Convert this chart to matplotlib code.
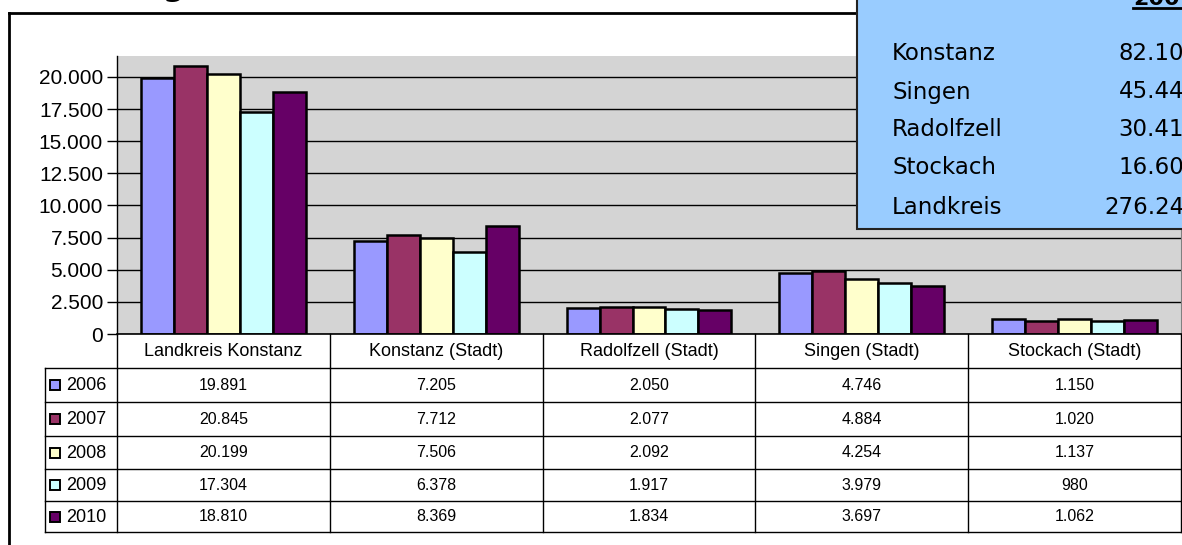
import numpy as np
import matplotlib
matplotlib.use("Agg")
import matplotlib.pyplot as plt
from matplotlib.patches import Rectangle
from matplotlib.ticker import FuncFormatter, MultipleLocator

plt.rcParams['font.family'] = ['Liberation Sans', 'DejaVu Sans']

# data
kategorien = ["Landkreis Konstanz", "Konstanz (Stadt)", "Radolfzell (Stadt)",
              "Singen (Stadt)", "Stockach (Stadt)"]
jahre = ["2006", "2007", "2008", "2009", "2010"]
werte_2006 = [19891, 7205, 2050, 4746, 1150]
werte_2007 = [20845, 7712, 2077, 4884, 1020]
werte_2008 = [20199, 7506, 2092, 4254, 1137]
werte_2009 = [17304, 6378, 1917, 3979, 980]
werte_2010 = [18810, 8369, 1834, 3697, 1062]
farben = ["#9999ff", "#993366", "#ffffcc", "#ccffff", "#660066"]

box_orte = ["Konstanz", "Singen", "Radolfzell", "Stockach", "Landkreis"]
box_werte = ["82.10", "45.44", "30.41", "16.60", "276.24"]

reihen = [werte_2006, werte_2007, werte_2008, werte_2009, werte_2010]


def fmt(v):
    return f"{int(v):,}".replace(",", ".")


W, H = 1182, 545
fig = plt.figure(figsize=(W / 100, H / 100), dpi=100)

# plot area in pixels
px0, px1, py0, py1 = 117, 1181, 56, 334
ax = fig.add_axes([px0 / W, 1 - py1 / H, (px1 - px0) / W, (py1 - py0) / H])
ax.set_facecolor("#d4d4d4")

x = np.arange(len(kategorien))
bw = 0.155
for j, werte in enumerate(reihen):
    ax.bar(x + (j - 2) * bw, werte, bw, color=farben[j], edgecolor="black",
           linewidth=1.8, label=jahre[j], zorder=2)

ax.set_xlim(-0.5, len(kategorien) - 0.5)
ax.set_ylim(0, 21630)
ax.yaxis.set_major_locator(MultipleLocator(2500))
ax.yaxis.set_major_formatter(FuncFormatter(lambda v, p: fmt(v)))
ax.set_axisbelow(True)
ax.yaxis.grid(True, color="black", linewidth=1)
ax.set_xticks([])
ax.tick_params(axis="y", length=7, width=1, labelsize=15, pad=3)
ax.spines["top"].set_visible(False)
ax.spines["right"].set_color("#808080")
ax.spines["left"].set_linewidth(1)
ax.spines["bottom"].set_linewidth(1.2)

# overlay for frame, table and info box (pixel coordinates)
ov = fig.add_axes([0, 0, 1, 1], zorder=5)
ov.set_xlim(0, W)
ov.set_ylim(H, 0)
ov.axis("off")
ov.patch.set_alpha(0)

# frame
ov.plot([9, 9], [13, H + 5], color="black", lw=2)
ov.plot([9, 860], [13, 13], color="black", lw=2)

# title (cut off at top)
ov.text(163, -4, "g", fontsize=22, fontweight="bold", ha="left", va="baseline",
        family="DejaVu Sans")

# data table
colw = (px1 - px0) / len(kategorien)
zeilen_y = [334, 368, 402, 436, 469, 501, 532]
lc = "black"
for i in range(len(kategorien) + 1):
    xx = px0 + i * colw
    ov.plot([xx, xx], [334, 532], color=lc, lw=1)
ov.plot([45, 45], [368, 532], color=lc, lw=1)
for yy in zeilen_y[1:]:
    ov.plot([45, px1], [yy, yy], color=lc, lw=1)

for i, k in enumerate(kategorien):
    ov.text(px0 + (i + 0.5) * colw, 351, k, ha="center", va="center", fontsize=13)

for j, werte in enumerate(reihen):
    yc = (zeilen_y[j + 1] + zeilen_y[j + 2]) / 2
    ov.add_patch(Rectangle((50, yc - 5), 10, 10, facecolor=farben[j],
                           edgecolor="black", lw=1.4))
    ov.text(66, yc + 1, jahre[j], ha="left", va="center", fontsize=13)
    for i, v in enumerate(werte):
        ov.text(px0 + (i + 0.5) * colw, yc, fmt(v), ha="center", va="center",
                fontsize=11.5)

# info box
ov.add_patch(Rectangle((857, -10), 400, 239, facecolor="#99ccff",
                       edgecolor="#222222", lw=1.5, zorder=6))
ov.text(1133, 5, "200", fontsize=16, fontweight="bold", ha="left", va="baseline",
        family="DejaVu Sans", zorder=7)
ov.plot([1133, 1190], [7.5, 7.5], color="black", lw=2, zorder=7)
box_y = [53, 92, 130, 168, 207]
for ort, wert, yy in zip(box_orte, box_werte, box_y):
    ov.text(892, yy, ort, fontsize=16.5, ha="left", va="center",
            family="DejaVu Sans", zorder=7)
    ov.text(1184, yy, wert, fontsize=16.5, ha="right", va="center",
            family="DejaVu Sans", zorder=7)

fig.savefig("out.png", dpi=100)
